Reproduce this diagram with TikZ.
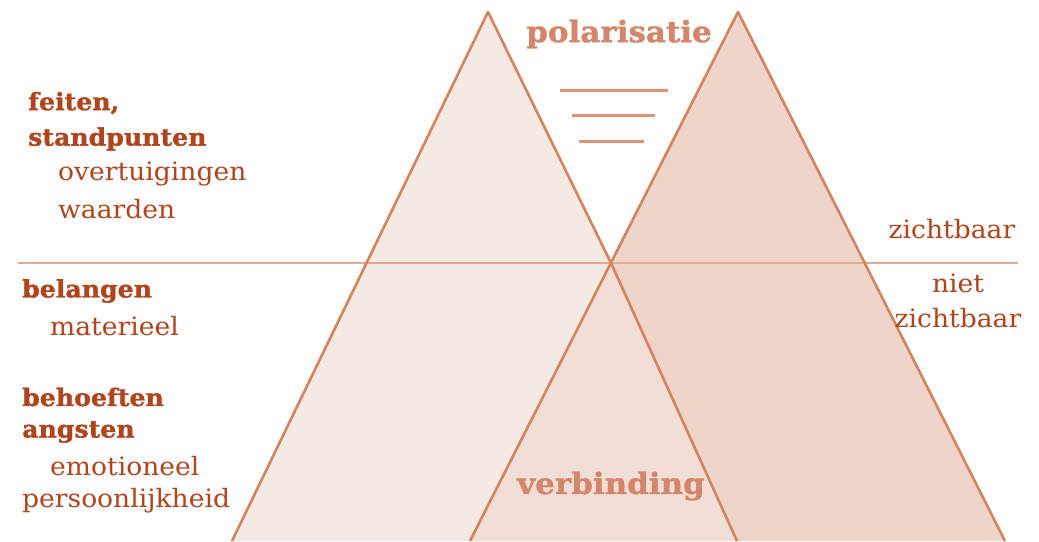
\documentclass[tikz,border=0pt]{standalone}
\usepackage{fontspec}
\setmainfont{DejaVu Serif}
\newfontfamily\slab[FakeStretch=1.05, BoldFeatures={FakeBold=1.2}]{DejaVu Serif}
\definecolor{txtdark}{HTML}{B0441C}
\definecolor{txtlight}{HTML}{D5866A}
\definecolor{edge}{HTML}{D4835F}
\definecolor{hline}{HTML}{E3AA92}
\definecolor{fillL}{HTML}{F5E9E4}
\definecolor{fillR}{HTML}{EED4C9}
\definecolor{fillM}{HTML}{F1DED6}
\tikzset{
  lbl/.style={anchor=west, inner sep=0pt, text=txtdark, font=\slab\fontsize{25.3}{28}\selectfont},
  lblb/.style={lbl, font=\slab\bfseries\fontsize{24.0}{28}\selectfont},
  ttl/.style={inner sep=0pt, text=txtlight, font=\slab\bfseries\fontsize{29.5}{32}\selectfont},
  tri/.style={draw=edge, line width=2.6pt, line join=round},
  bar/.style={draw=edge, line width=3pt, opacity=0.85},
}
\begin{document}
\begin{tikzpicture}[x=1pt,y=-1pt]
\useasboundingbox[fill=white] (0,0) rectangle (1039,541);
% vertices
\coordinate (LA) at (488,12);
\coordinate (LB) at (232,541);
\coordinate (LC) at (737,541);
\coordinate (X) at (611,263);
\coordinate (RA) at (738,12);
\coordinate (RB) at (470,541);
\coordinate (RC) at (1005,541);
\coordinate (H1) at (18,263);
\coordinate (H2) at (1018,263);
% fills
\fill[fillL] (LB) -- (LA) -- (X) -- (LC) -- cycle;
\fill[fillR] (RB) -- (RA) -- (RC) -- cycle;
\fill[fillM] (X) -- (RB) -- (LC) -- cycle;
% horizontal divider
\draw[hline, line width=2.2pt] (H1) -- (H2);
% triangle edges
\draw[tri] (LB) -- (LA) -- (X) -- (LC);
\draw[tri] (RB) -- (RA) -- (RC);
% polarisatie bars
\coordinate (b1a) at (560,90);  \coordinate (b1b) at (668,90);
\coordinate (b2a) at (572,115); \coordinate (b2b) at (655,115);
\coordinate (b3a) at (579,141); \coordinate (b3b) at (644,141);
\draw[bar] (b1a) -- (b1b);
\draw[bar] (b2a) -- (b2b);
\draw[bar] (b3a) -- (b3b);
% titles
\node[ttl] (pol) at (619,34) {polarisatie};
\node[ttl] (ver) at (611,486) {verbinding};
% left labels
\node[lblb] (feiten) at (28,103) {feiten,};
\node[lblb] (stand) at (28,139) {standpunten};
\node[lbl] (overt) at (58,174) {overtuigingen};
\node[lbl] (waard) at (58,209) {waarden};
\node[lblb] (belang) at (22,291) {belangen};
\node[lbl] (mater) at (50,326) {materieel};
\node[lblb] (behoef) at (22,397) {behoeften};
\node[lblb] (angst) at (22,432) {angsten};
\node[lbl] (emot) at (50,466) {emotioneel};
\node[lbl] (pers) at (22,501) {persoonlijkheid};
% right labels
\node[lbl, anchor=center] (zicht) at (952,229) {zichtbaar};
\node[lbl, anchor=center] (niet) at (958,283) {niet};
\node[lbl, anchor=center] (nzicht) at (958,318) {zichtbaar};
\end{tikzpicture}
\end{document}
